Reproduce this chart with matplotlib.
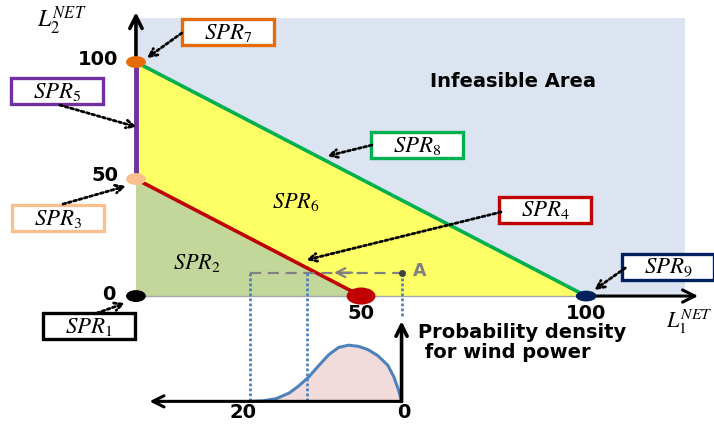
import numpy as np
import matplotlib.pyplot as plt
from matplotlib.patches import Polygon, Rectangle, Ellipse

plt.rcParams['mathtext.fontset'] = 'stix'

# net load limits (MW)
lim_bajo = 50
lim_alto = 100
# zona infactible (fondo)
fondo_x = 122
fondo_y = 119

# punto de operacion A
punto_A = (59, 10)

# densidad de probabilidad de la potencia eolica (leida a mano)
viento = [20.1, 18.2, 16.5, 14.8, 13.5, 12.2, 10.9, 9.6, 8.3, 7.0, 5.7, 4.4, 3.1, 1.8, 1.0, 0.35, 0.0]
densidad = [0.0, 0.01, 0.05, 0.15, 0.28, 0.44, 0.64, 0.83, 0.96, 1.0, 0.98, 0.92, 0.81, 0.64, 0.43, 0.18, 0.0]
marcas_viento = [20, 0]
cortes_viento = [20, 12.5, 0]

# escala del eje de viento dentro del dibujo
base_dens = -45
alto_dens = 24
escala_viento = 1.685


def viento_a_x(w):
    return punto_A[0] - np.asarray(w) * escala_viento


fig = plt.figure(figsize=(7.14, 4.25), dpi=100)
ax = fig.add_axes([0, 0, 1, 1])
ax.set_xlim(-30.2, 128.4)
ax.set_ylim(-55.1, 126.5)
ax.axis('off')

# regiones
ax.add_patch(Rectangle((0, 0), fondo_x, fondo_y, facecolor='#dbe4f0', edgecolor='none', zorder=0))
ax.add_patch(Polygon([(0, 0), (lim_alto, 0), (0, lim_alto)], closed=True, facecolor='#ffff66', edgecolor='none', zorder=1))
ax.add_patch(Polygon([(0, 0), (lim_bajo, 0), (0, lim_bajo)], closed=True, facecolor='#c4d79b', edgecolor='none', zorder=2))
ax.plot([0, lim_alto], [0, 0], color='#a6a6a6', lw=1, zorder=3)

# fronteras
ax.plot([0, lim_alto], [lim_alto, 0], color='#00b050', lw=2.6, zorder=4)
ax.plot([0, lim_bajo], [lim_bajo, 0], color='#c00000', lw=2.6, zorder=4)
ax.plot([0, 0], [lim_bajo, lim_alto], color='#7030a0', lw=3.5, zorder=4)

# ejes con flecha
ax.annotate('', xy=(0, 122.5), xytext=(0, lim_alto),
            arrowprops=dict(arrowstyle='->', lw=2.6, color='black', mutation_scale=22), zorder=5)
ax.annotate('', xy=(125.5, 0), xytext=(lim_alto, 0),
            arrowprops=dict(arrowstyle='->', lw=2.2, color='black', mutation_scale=22), zorder=5)

# puntos
puntos = [((0, 0), 4.4, 5.1, 'black'),
          ((0, lim_bajo), 4.4, 5.1, '#fac090'),
          ((0, lim_alto), 4.4, 5.1, '#e46c0a'),
          ((lim_bajo, 0), 6.4, 7.3, '#c00000'),
          ((lim_alto, 0), 4.6, 4.6, '#002060')]
for centro, w, h, c in puntos:
    ax.add_patch(Ellipse(centro, w, h, facecolor=c, edgecolor='none', zorder=6))

# marcas de los ejes
fb = dict(fontsize=14, fontweight='bold', family='DejaVu Sans', zorder=7)
ax.text(-4.0, lim_alto + 1, str(lim_alto), ha='right', va='center', **fb)
ax.text(-4.0, lim_bajo + 1.5, str(lim_bajo), ha='right', va='center', **fb)
ax.text(-4.5, 0.6, '0', ha='right', va='center', **fb)
ax.text(lim_bajo, -7.3, str(lim_bajo), ha='center', va='center', **fb)
ax.text(lim_alto, -7.3, str(lim_alto), ha='center', va='center', **fb)

ax.text(-16.4, 117.5, r'$L_2^{NET}$', fontsize=17, ha='center', va='center')
ax.text(128.2, -11, r'$L_1^{NET}$', fontsize=16, ha='right', va='center')

ax.text(83.8, 91.5, 'Infeasible Area', fontsize=14, fontweight='bold',
        family='DejaVu Sans', ha='center', va='center', zorder=7)
ax.text(35.6, 40.2, r'$SPR_6$', fontsize=16, ha='center', va='center', zorder=7)
ax.text(13.6, 14.1, r'$SPR_2$', fontsize=16, ha='center', va='center', zorder=7)

# etiquetas en caja con flecha punteada
cajas = [('SPR_7', (20.4, 112.8), (10.2, 112.4), (2.4, 101.7), '#e46c0a'),
         ('SPR_5', (-17.6, 87.6), (-16.9, 81.6), (0.2, 72.2), '#7030a0'),
         ('SPR_3', (-17.3, 33.3), (-16.2, 39.3), (-2.2, 47.0), '#fac090'),
         ('SPR_1', (-10.4, -12.8), (-8.7, -7.3), (-2.4, -3.0), 'black'),
         ('SPR_8', (62.4, 64.5), (52.4, 64.5), (42.4, 59.8), '#00b050'),
         ('SPR_4', (90.9, 36.8), (81.1, 35.9), (37.8, 15.4), '#c00000'),
         ('SPR_9', (118.2, 12.4), (108.7, 12.0), (101.8, 2.6), '#002060')]
ancho_caja = 20.5
alto_caja = 11.3
for txt, centro, cola, punta, c in cajas:
    ax.add_patch(Rectangle((centro[0] - ancho_caja / 2, centro[1] - alto_caja / 2), ancho_caja, alto_caja,
                           facecolor='white', edgecolor=c, lw=2.4, zorder=8))
    ax.text(centro[0], centro[1], '$' + txt + '$', fontsize=16.5, ha='center', va='center', zorder=9)
    ax.annotate('', xy=punta, xytext=cola,
                arrowprops=dict(arrowstyle='->', linestyle=(0, (1, 1)), lw=2, color='black',
                                mutation_scale=14, shrinkA=0, shrinkB=0), zorder=9)

# proyeccion del punto A
x_cortes = viento_a_x(cortes_viento)
ax.plot([x_cortes[0], punto_A[0]], [punto_A[1], punto_A[1]], color='#808080', lw=1.6,
        linestyle=(0, (5, 3)), zorder=5)
ax.annotate('', xy=(44, punto_A[1]), xytext=(48, punto_A[1]),
            arrowprops=dict(arrowstyle='->', lw=1.6, color='#808080', mutation_scale=16,
                            shrinkA=0, shrinkB=0), zorder=5)
ax.plot(*punto_A, 'o', color='#404040', ms=4, zorder=6)
ax.text(punto_A[0] + 2.5, punto_A[1] + 0.5, 'A', fontsize=12.5, fontweight='bold',
        color='#808080', family='DejaVu Sans', ha='left', va='center')

for i, xc in enumerate(x_cortes):
    y_fin = -9.5 if i == len(x_cortes) - 1 else base_dens
    ax.plot([xc, xc], [punto_A[1], y_fin], color='#4f81bd', lw=2, linestyle=(0, (1, 0.8)), zorder=5)

# densidad del viento
xd = viento_a_x(viento)
yd = base_dens + np.array(densidad) * alto_dens
ax.fill_between(xd, base_dens, yd, color='#f2dcdb', zorder=3)
ax.plot(xd, yd, color='#4f81bd', lw=2.2, zorder=4)

ax.annotate('', xy=(3.0, base_dens), xytext=(punto_A[0], base_dens),
            arrowprops=dict(arrowstyle='->', lw=2.2, color='black', mutation_scale=20,
                            shrinkA=0, shrinkB=0), zorder=6)
ax.annotate('', xy=(punto_A[0], -10.7), xytext=(punto_A[0], base_dens),
            arrowprops=dict(arrowstyle='->', lw=2.6, color='black', mutation_scale=20,
                            shrinkA=0, shrinkB=0), zorder=6)
for w in marcas_viento:
    ax.text(viento_a_x(w) + (0.5 if w == 0 else -1.5), -49.8, str(w), ha='center', va='center', **fb)

ax.text(62.7, -20, 'Probability density\n for wind power', fontsize=14, fontweight='bold',
        family='DejaVu Sans', ha='left', va='center', linespacing=1.05)

plt.savefig('out.png', dpi=100)
